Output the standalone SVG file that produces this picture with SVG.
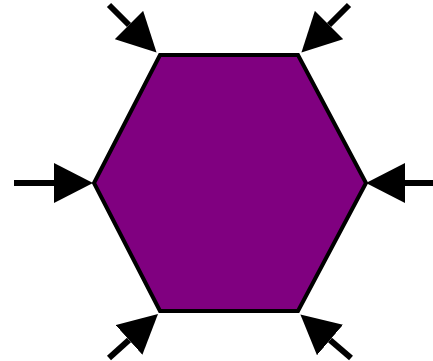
<svg xmlns="http://www.w3.org/2000/svg" width="433" height="361" viewBox="0 0 433 361">
<defs>
<marker id="ah" markerUnits="userSpaceOnUse" markerWidth="40" markerHeight="40" refX="0" refY="20" orient="auto" viewBox="0 0 40 40">
<path d="M0,0 L39,20 L0,40 z" fill="#000"/>
</marker>
<style>
.conn{stroke:#000;stroke-width:6;fill:none;marker-end:url(#ah)}
.hex{fill:#800080;stroke:#000;stroke-width:4;stroke-linejoin:miter}
</style>
</defs>
<g id="hexagon">
<polygon class="hex" points="160,55 298,55 366,183 298,311 160,311 94,183"/>
</g>
<g id="connectors">
<line class="conn" x1="14" y1="183" x2="54" y2="183"/>
<line class="conn" x1="433" y1="183" x2="405" y2="183"/>
<line class="conn" x1="109" y1="5" x2="129" y2="25"/>
<line class="conn" x1="349" y1="5" x2="329" y2="25"/>
<line class="conn" x1="109" y1="358" x2="129" y2="340"/>
<line class="conn" x1="351" y1="358" x2="330" y2="340"/>
</g>
</svg>
